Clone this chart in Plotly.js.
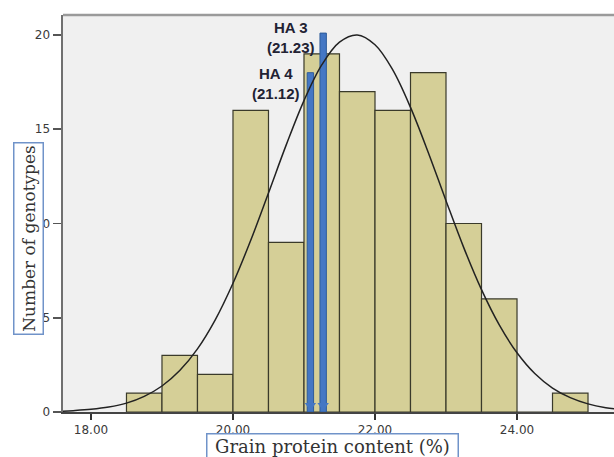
<!DOCTYPE html>
<html>
<head>
<meta charset="utf-8">
<script src="https://cdn.plot.ly/plotly-3.0.1.min.js"></script>
<style>
html, body { margin: 0; padding: 0; background: #ffffff; }
#chart { width: 614px; height: 457px; }
</style>
</head>
<body>
<div id="chart"></div>
<script>
// Histogram bins (centres of 0.5-wide bins) and counts
var binCenters = [18.75, 19.25, 19.75, 20.25, 20.75, 21.25, 21.75, 22.25, 22.75, 23.25, 23.75, 24.25, 24.75];
var counts     = [1, 3, 2, 16, 9, 19, 17, 16, 18, 10, 6, 0, 1];

// Fitted normal curve
var curveX = [17.6, 17.75, 18.0, 18.25, 18.5, 18.75, 19.0, 19.25, 19.5, 19.75, 20.0, 20.25, 20.5, 20.75, 21.0, 21.25, 21.5, 21.75, 22.0, 22.25, 22.5, 22.75, 23.0, 23.25, 23.5, 23.75, 24.0, 24.25, 24.5, 24.75, 25.0, 25.25, 25.4];
var curveY = [0.04, 0.07, 0.14, 0.26, 0.47, 0.83, 1.38, 2.20, 3.35, 4.89, 6.83, 9.11, 11.62, 14.17, 16.52, 18.41, 19.62, 20.0, 19.48, 18.15, 16.16, 13.77, 11.21, 8.72, 6.49, 4.62, 3.14, 2.04, 1.27, 0.76, 0.43, 0.23, 0.16];

// Marked genotypes (arrow positions and heights as drawn)
var markNames = ['HA 4', 'HA 3'];
var markValues = ['21.12', '21.23'];
var markX = [21.09, 21.27];
var markY = [18.0, 20.1];

// Axis ticks
var yTicks = [0, 5, 10, 15, 20];
var xTicks = [18, 20, 22, 24];
var xTickText = ['18.00', '20.00', '22.00', '24.00'];

var traces = [
  {
    type: 'bar', x: binCenters, y: counts, width: 0.5,
    marker: { color: '#d5cf97', line: { color: '#3a3a2a', width: 1.2 } },
    hoverinfo: 'x+y', showlegend: false
  },
  {
    type: 'bar', x: markX, y: markY, width: 0.09,
    marker: { color: '#4477c4', line: { color: '#2e5c9a', width: 1 } },
    showlegend: false
  },
  {
    type: 'scatter', mode: 'markers', x: markX, y: [0.35, 0.35],
    marker: { symbol: 'triangle-down', size: 10, color: '#4477c4' },
    showlegend: false, hoverinfo: 'skip'
  },
  {
    type: 'scatter', mode: 'lines', x: curveX, y: curveY,
    line: { color: '#222222', width: 1.5, shape: 'spline' },
    showlegend: false
  }
];

var annotations = [];
var labelPos = [[20.60, 17.4], [20.82, 19.87]];
for (var i = 0; i < markNames.length; i++) {
  annotations.push({
    xref: 'x', yref: 'y', x: labelPos[i][0], y: labelPos[i][1],
    text: '<b>' + markNames[i] + '<br>(' + markValues[i] + ')</b>',
    showarrow: false, xanchor: 'center', yanchor: 'middle',
    font: { family: 'Liberation Sans, Arial, sans-serif', size: 15, color: '#222233' }
  });
}
// Boxed axis titles
annotations.push({
  xref: 'paper', yref: 'paper', x: (28 - 63) / 551, y: (412 - 239) / 397,
  xanchor: 'center', yanchor: 'middle', textangle: -90,
  text: 'Number of genotypes', showarrow: false,
  width: 188, height: 26, borderpad: 1,
  bgcolor: '#ffffff', bordercolor: '#7093c9', borderwidth: 1.5,
  font: { family: 'DejaVu Serif, serif', size: 17, color: '#333333' }
});
annotations.push({
  xref: 'paper', yref: 'paper', x: (332 - 63) / 551, y: (412 - 433) / 397,
  xanchor: 'center', yanchor: 'top',
  text: 'Grain protein content (%)', showarrow: false,
  width: 250, height: 24, borderpad: 0,
  bgcolor: '#ffffff', bordercolor: '#7093c9', borderwidth: 1.5,
  font: { family: 'DejaVu Serif, serif', size: 18, color: '#333333' }
});

var layout = {
  width: 614, height: 457,
  margin: { l: 63, r: 0, t: 15, b: 45 },
  paper_bgcolor: '#ffffff', plot_bgcolor: '#f0f0f0',
  barmode: 'overlay', showlegend: false,
  xaxis: {
    range: [17.606, 25.366], tickvals: xTicks, ticktext: xTickText,
    showgrid: false, zeroline: false,
    showline: true, linecolor: '#444444', linewidth: 1.5,
    ticks: 'outside', ticklen: 6, tickwidth: 1.5, tickcolor: '#333333',
    tickfont: { family: 'DejaVu Sans, sans-serif', size: 12, color: '#3a3a3a' }
  },
  yaxis: {
    range: [0, 21.06], tickvals: yTicks,
    showgrid: false, zeroline: false,
    showline: true, linecolor: '#707070', linewidth: 2.5,
    ticks: 'outside', ticklen: 8, tickwidth: 1.5, tickcolor: '#555555',
    tickfont: { family: 'DejaVu Sans, sans-serif', size: 12, color: '#3a3a3a' }
  },
  shapes: [
    { type: 'line', xref: 'paper', yref: 'paper', x0: 0, x1: 1, y0: 1, y1: 1,
      line: { color: '#9a9a9a', width: 2.5 } }
  ],
  annotations: annotations
};

Plotly.newPlot('chart', traces, layout, { displayModeBar: false, staticPlot: true });
</script>
</body>
</html>
